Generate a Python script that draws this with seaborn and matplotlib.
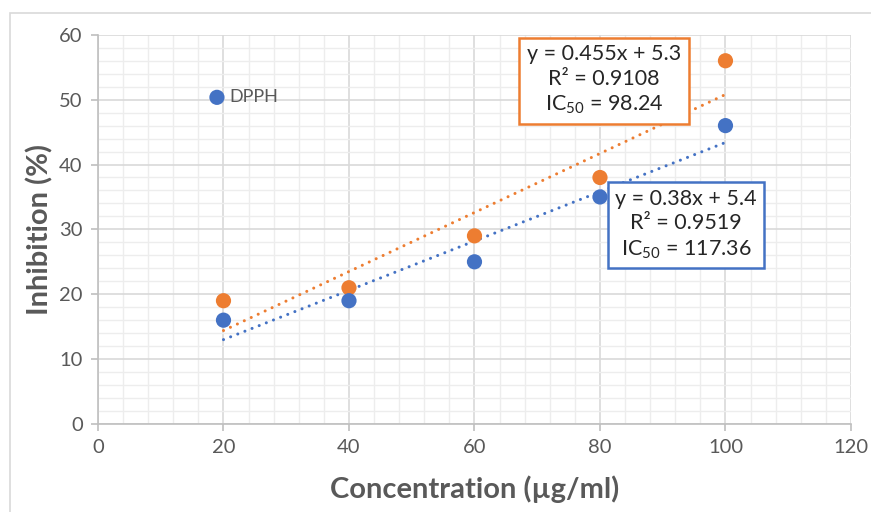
import numpy as np
import pandas as pd
import seaborn as sns
import matplotlib.pyplot as plt
from matplotlib.patches import Rectangle
from matplotlib.ticker import MultipleLocator

# data
concentration = [20, 40, 60, 80, 100]
dpph_inhibition = [16, 19, 25, 35, 46]
other_inhibition = [19, 21, 29, 38, 56]

blue_label = ["y = 0.38x + 5.4", "R² = 0.9519", "IC$_{50}$ = 117.36"]
orange_label = ["y = 0.455x + 5.3", "R² = 0.9108", "IC$_{50}$ = 98.24"]

BLUE = "#4472C4"
ORANGE = "#ED7D31"
GREY = "#595959"

sns.set_theme(style="white")
plt.rcParams["font.family"] = ["Lato", "DejaVu Sans"]
plt.rcParams["mathtext.fontset"] = "custom"
plt.rcParams["mathtext.rm"] = "Lato"
plt.rcParams["mathtext.it"] = "Lato:italic"

df = pd.DataFrame({"Concentration": concentration,
                   "DPPH": dpph_inhibition,
                   "Other": other_inhibition})

fig = plt.figure(figsize=(8.71, 5.12), dpi=100)
ax = fig.add_axes([0.1125, 0.172, 0.8645, 0.76])

# outer chart frame
fig.patches.append(Rectangle((0.011, -0.01), 1.0, 0.985, transform=fig.transFigure,
                             fill=False, edgecolor="#D9D9D9", linewidth=1.2))

# trendlines (dotted)
dots = dict(linestyle=(0, (0.01, 2.5)), linewidth=2.2, dash_capstyle="round")
sns.regplot(data=df, x="Concentration", y="Other", scatter=False, ci=None, ax=ax,
            line_kws=dict(color=ORANGE, **dots))
sns.regplot(data=df, x="Concentration", y="DPPH", scatter=False, ci=None, ax=ax,
            line_kws=dict(color=BLUE, **dots))

# points
sns.scatterplot(data=df, x="Concentration", y="Other", color=ORANGE, s=120,
                edgecolor="none", ax=ax, zorder=3)
sns.scatterplot(data=df, x="Concentration", y="DPPH", color=BLUE, s=120,
                edgecolor="none", ax=ax, zorder=3, label="DPPH")

ax.set_xlim(0, 120)
ax.set_ylim(0, 60)
ax.xaxis.set_major_locator(MultipleLocator(20))
ax.xaxis.set_minor_locator(MultipleLocator(4))
ax.yaxis.set_major_locator(MultipleLocator(10))
ax.yaxis.set_minor_locator(MultipleLocator(2))
ax.grid(which="major", color="#D9D9D9", linewidth=1.2)
ax.grid(which="minor", color="#EDEDED", linewidth=1.0)
ax.set_axisbelow(True)

for side in ["top", "right"]:
    ax.spines[side].set_visible(False)
for side in ["left", "bottom"]:
    ax.spines[side].set_color("#BFBFBF")
    ax.spines[side].set_linewidth(1.2)

ax.tick_params(axis="both", which="major", length=5, color="#BFBFBF", width=1.2,
               labelsize=14.5, labelcolor=GREY, pad=6, bottom=True, left=True)
ax.tick_params(axis="both", which="minor", length=0)

ax.set_xlabel("Concentration (µg/ml)", fontsize=21, fontweight="bold", color=GREY, labelpad=14)
ax.set_ylabel("Inhibition (%)", fontsize=21, fontweight="bold", color=GREY, labelpad=4)

leg = ax.legend(loc="center left", bbox_to_anchor=(0.146, 0.84), frameon=False,
                fontsize=13, handlelength=1.0, handletextpad=0.2, borderpad=0,
                borderaxespad=0)
for t in leg.get_texts():
    t.set_color(GREY)

box_text = dict(transform=ax.transAxes, ha="center", va="center", fontsize=15.5,
                linespacing=1.3, color="#262626", zorder=5)
ax.text(0.672, 0.884, "\n".join(orange_label),
        bbox=dict(boxstyle="square,pad=0.35", facecolor="white", edgecolor=ORANGE,
                  linewidth=1.8), **box_text)
ax.text(0.781, 0.512, "\n".join(blue_label),
        bbox=dict(boxstyle="square,pad=0.35", facecolor="white", edgecolor=BLUE,
                  linewidth=1.8), **box_text)

fig.savefig("out.png", dpi=100)
